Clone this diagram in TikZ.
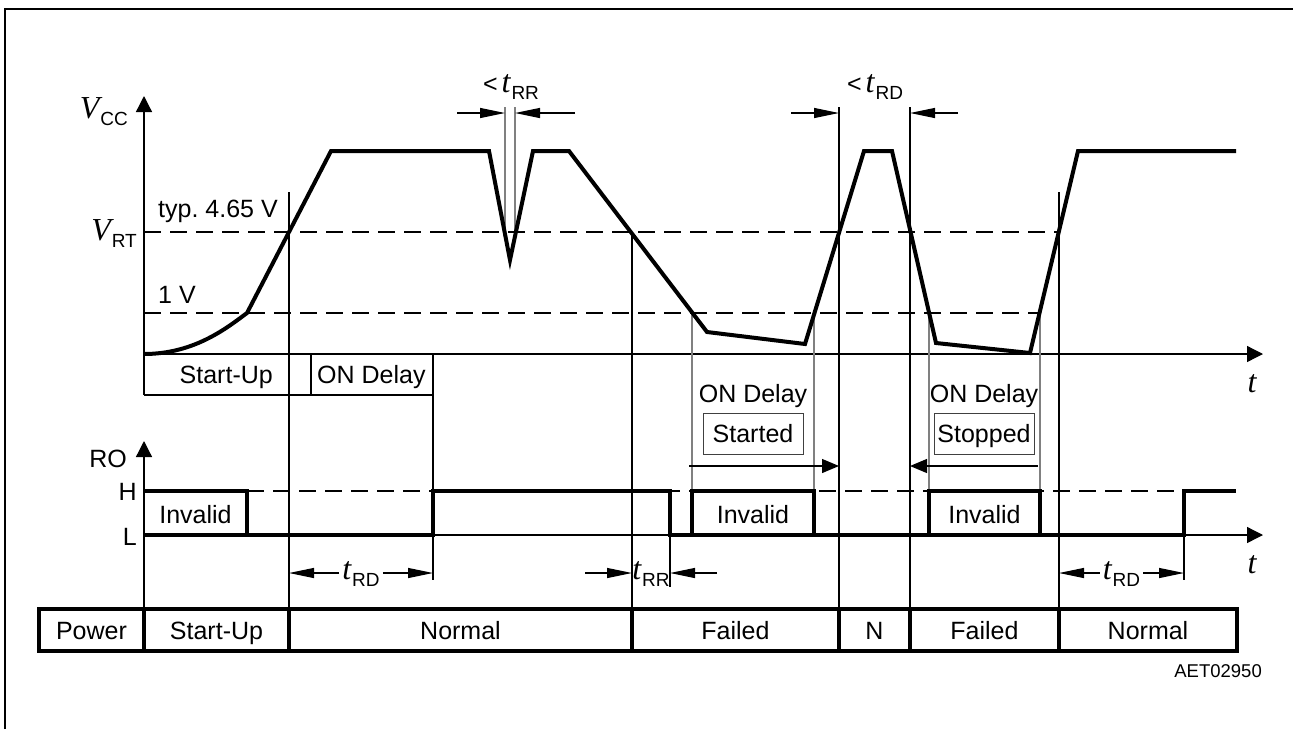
\documentclass[tikz,border=0pt]{standalone}
\usepackage{fontspec}
\setmainfont{Liberation Sans}
\newfontfamily\serfam{Liberation Serif}
\usetikzlibrary{arrows.meta}
\frenchspacing
\newcommand\mainsz{\fontsize{25}{29}\selectfont}
\newcommand\itvar[1]{{\fontsize{32}{34}\selectfont\serfam\itshape #1}}
\newcommand\itsub[2]{\itvar{#1}\kern1pt\raisebox{-7pt}{\fontsize{19}{20}\selectfont #2}}
\begin{document}
\begin{tikzpicture}[x=1pt,y=-1pt,
  wave/.style={line width=4pt,line join=miter},
  thinl/.style={line width=1.3pt},
  grayl/.style={line width=1.3pt,draw=black!50},
  hdash/.style={line width=1.2pt,dash pattern=on 17pt off 9pt},
  dimarr/.style={line width=1.2pt,-{Triangle[length=25pt,width=10pt]}},
  axisarr/.style={line width=1.3pt,-{Triangle[length=16pt,width=16pt]}},
  delarr/.style={line width=1.2pt,-{Triangle[length=17pt,width=14pt]}},
  lbl/.style={font=\mainsz,inner ysep=0pt,inner xsep=3pt},
  cell/.style={draw,line width=3.2pt,minimum height=42pt,inner sep=0pt,outer sep=0pt,font=\mainsz,text height=18pt,text depth=0pt},
  smallbox/.style={draw=black!75,line width=1pt,minimum width=100pt,minimum height=41pt,inner sep=0pt,font=\mainsz,text height=18pt,text depth=0pt}]
\useasboundingbox (0,0) rectangle (1293,729);
% frame
\draw[line width=2.2pt] (5,729) -- (5,9) -- (1293,9);

% ---------- VCC diagram ----------
\draw[axisarr] (144,395) -- (144,96);
\draw[axisarr] (144,354) -- (1263,354);
\node[lbl,anchor=base east] (vcc) at (131,118) {\itsub{V}{CC}};
\node[lbl,anchor=base east] (vrt) at (140,240) {\itsub{V}{RT}};
\node[lbl,anchor=base west] (typ) at (155,217) {typ.\ 4.65 V};
\node[lbl,anchor=base west] (onev) at (155,303) {1 V};
\node[lbl,anchor=base] (t1) at (1252,392) {\itvar{t}};

\draw[hdash] (144,232) -- (1059,232);
\draw[hdash] (144,313) -- (1040,313);

% row below VCC axis
\draw[thinl] (144,395) -- (433,395);
\draw[thinl] (311,354) -- (311,395);
\node[lbl,anchor=base east] (su1) at (276,383) {Start-Up};
\node[lbl,anchor=base west] (ond1) at (314,383) {ON Delay};

% vertical reference lines
\draw[thinl] (289,192) -- (289,609);
\draw[thinl] (433,354) -- (433,580);
\draw[thinl] (632,232) -- (632,609);
\draw[thinl] (839,107) -- (839,609);
\draw[thinl] (910,107) -- (910,609);
\draw[thinl] (1059,192) -- (1059,609);
\draw[grayl] (505,107) -- (505,232);
\draw[grayl] (515,107) -- (515,232);
\draw[grayl] (692,313) -- (692,491);
\draw[grayl] (814,313) -- (814,491);
\draw[grayl] (929,313) -- (929,491);
\draw[grayl] (1040,313) -- (1040,491);
\draw[thinl] (670,535) -- (670,587);
\draw[thinl] (1184,535) -- (1184,580);

% VCC waveform
\draw[wave] (144,354) .. controls (195,354) and (228,327) .. (247,313) -- (331,151) -- (489,151) -- (510,260) -- (533,151) -- (569,151) -- (707,332) -- (805,344) -- (864,151) -- (892,151) -- (936,343) -- (1030,353) -- (1078,151) -- (1236,151);

% top dimension marks
\coordinate (rrA) at (505,113); \coordinate (rrB) at (515,113);
\coordinate (rdA) at (839,113); \coordinate (rdB) at (910,113);
\draw[dimarr] (457,113) -- (rrA);
\draw[dimarr] (575,113) -- (rrB);
\draw[dimarr] (791,113) -- (rdA);
\draw[dimarr] (958,113) -- (rdB);
\node[lbl,anchor=base] (ltrr) at (511,92) {<\kern4pt\itsub{t}{RR}};
\node[lbl,anchor=base] (ltrd) at (875,92) {<\kern4pt\itsub{t}{RD}};

% ON Delay started / stopped
\node[lbl,anchor=base] (ond2) at (753,402) {ON Delay};
\node[smallbox] (started) at (753,433.5) {Started};
\node[lbl,anchor=base] (ond3) at (984,402) {ON Delay};
\node[smallbox] (stopped) at (984,433.5) {Stopped};
\coordinate (stA) at (839,466); \coordinate (spA) at (910,466);
\draw[delarr] (689,466) -- (stA);
\draw[delarr] (1038,466) -- (spA);

% ---------- RO diagram ----------
\draw[axisarr] (144,609) -- (144,441);
\draw[axisarr] (144,535) -- (1263,535);
\node[lbl,anchor=base east] (ro) at (130,467) {RO};
\node[lbl,anchor=base east] (hl) at (140,500) {H};
\node[lbl,anchor=base east] (ll) at (140,545) {L};
\node[lbl,anchor=base] (t2) at (1252,573) {\itvar{t}};
\draw[hdash] (247,491) -- (1184,491);

\draw[wave] (144,491) -- (247,491) -- (247,535);
\draw[wave] (144,535) -- (433,535) -- (433,491) -- (670,491) -- (670,535) -- (1184,535) -- (1184,491) -- (1236,491);
\draw[wave] (692,535) -- (692,491) -- (814,491) -- (814,535);
\draw[wave] (929,535) -- (929,491) -- (1040,491) -- (1040,535);
\node[lbl,anchor=base] (inv1) at (195.5,523) {Invalid};
\node[lbl,anchor=base] (inv2) at (753,523) {Invalid};
\node[lbl,anchor=base] (inv3) at (984.5,523) {Invalid};

% bottom dimension marks
\coordinate (d1L) at (289,573); \coordinate (d1R) at (433,573);
\node[lbl,anchor=base] (trd1) at (361,579) {\itsub{t}{RD}};
\draw[dimarr] (trd1.west |- d1L) -- (d1L);
\draw[dimarr] (trd1.east |- d1R) -- (d1R);
\coordinate (d2L) at (632,573); \coordinate (d2R) at (670,573);
\node[lbl,anchor=base,inner xsep=0pt] (trr) at (651,579) {\itsub{t}{RR}};
\draw[dimarr] (585,573) -- (d2L);
\draw[dimarr] (717,573) -- (d2R);
\coordinate (d3L) at (1059,573); \coordinate (d3R) at (1184,573);
\node[lbl,anchor=base] (trd3) at (1121.5,579) {\itsub{t}{RD}};
\draw[dimarr] (trd3.west |- d3L) -- (d3L);
\draw[dimarr] (trd3.east |- d3R) -- (d3R);

% ---------- state table ----------
\node[cell,minimum width=105pt] (c1) at (91.5,630) {Power};
\node[cell,minimum width=145pt] (c2) at (216.5,630) {Start-Up};
\node[cell,minimum width=343pt] (c3) at (460.5,630) {Normal};
\node[cell,minimum width=207pt] (c4) at (735.5,630) {Failed};
\node[cell,minimum width=71pt] (c5) at (874.5,630) {N};
\node[cell,minimum width=149pt] (c6) at (984.5,630) {Failed};
\node[cell,minimum width=178pt] (c7) at (1148,630) {Normal};

\node[font=\fontsize{18.5}{20}\selectfont,anchor=base east,inner sep=0pt] (code) at (1262,677) {AET02950};
\end{tikzpicture}
\end{document}
